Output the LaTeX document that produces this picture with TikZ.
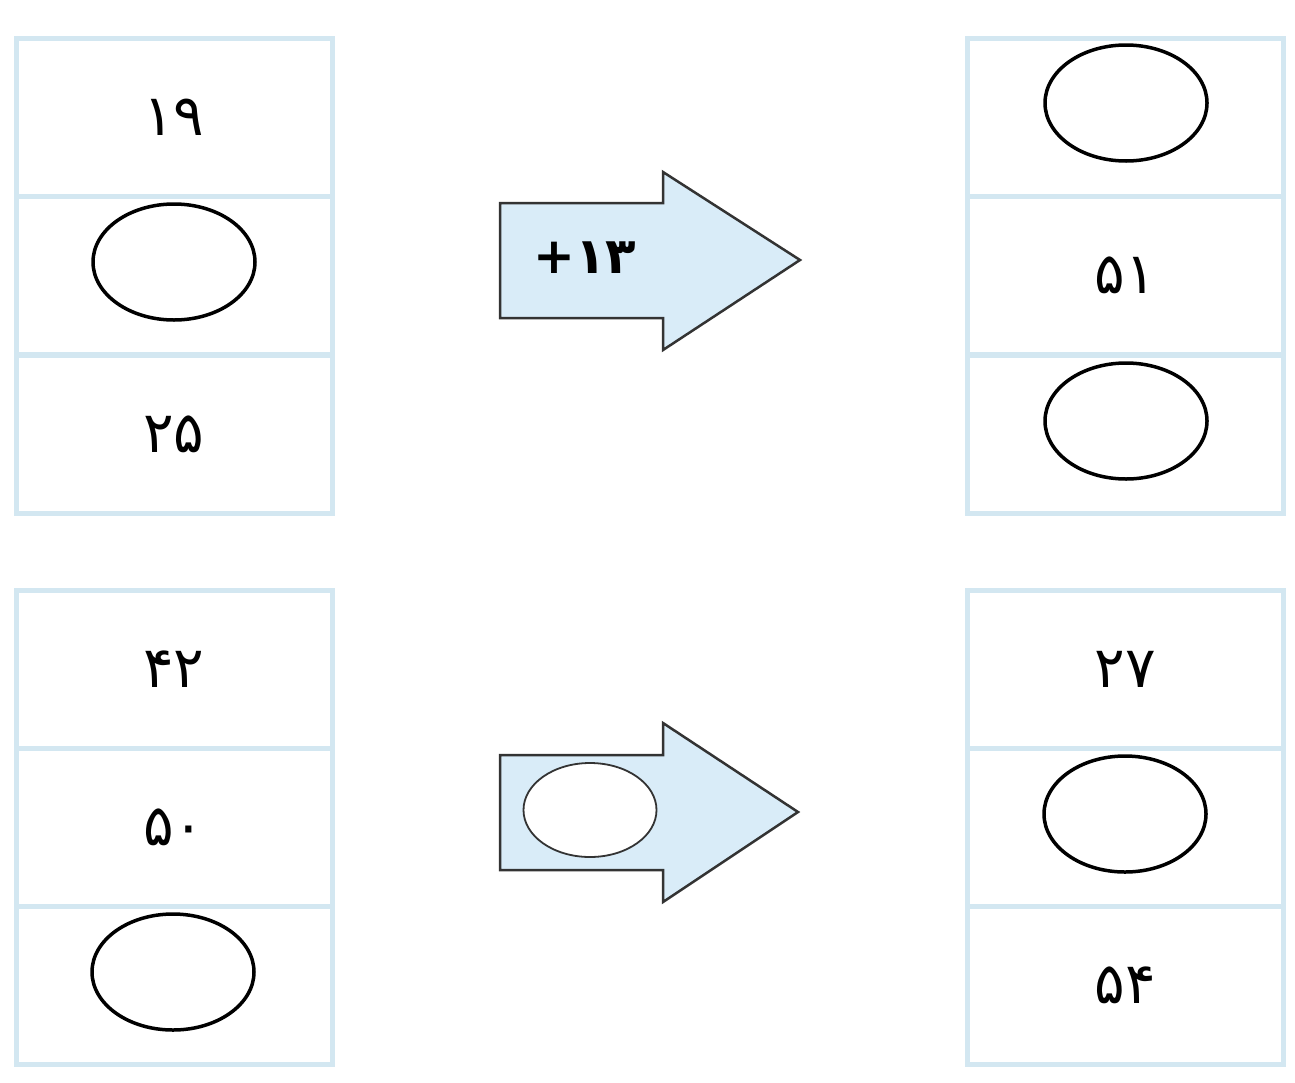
\documentclass[tikz,border=0pt]{standalone}
\usepackage{fontspec}
\newfontfamily\fa{DejaVu Sans}
\usetikzlibrary{shapes.geometric}
\definecolor{cellblue}{HTML}{D3E7F1}
\definecolor{arrowfill}{HTML}{D9ECF8}
\definecolor{arrowline}{HTML}{333333}
\tikzset{
  cell/.style={draw=cellblue, line width=5pt, fill=white, minimum width=316pt, minimum height=158pt, inner sep=0pt},
  num/.style={font=\fa\fontsize{57}{66}\selectfont, inner sep=0pt},
  oval/.style={ellipse, draw=black, line width=3.5pt, fill=white, minimum width=162pt, minimum height=116pt, inner sep=0pt},
  bigarrow/.style={draw=arrowline, line width=2.5pt, fill=arrowfill, line join=miter},
  smalloval/.style={ellipse, draw=arrowline, line width=1.8pt, fill=white, minimum width=133pt, minimum height=94pt, inner sep=0pt},
  oplabel/.style={font=\fa\bfseries\fontsize{50}{60}\selectfont, inner sep=0pt}
}
\begin{document}
\begin{tikzpicture}[x=1pt,y=-1pt]
\useasboundingbox (0,0) rectangle (1295,1082);
\fill[white] (0,0) rectangle (1295,1082);
% top-left box
\node[cell] (tl1) at (174,117) {};
\node[cell] (tl2) at (174,275) {};
\node[cell] (tl3) at (174,434) {};
\node[num] (tl1t) at (tl1) {۱۹};
\node[oval] (tl2o) at (174,262) {};
\node[num] (tl3t) at (tl3) {۲۵};
% top-right box
\node[cell] (tr1) at (1125,117) {};
\node[cell] (tr2) at (1125,275) {};
\node[cell] (tr3) at (1125,434) {};
\node[oval] (tr1o) at (1126,103) {};
\node[num] (tr2t) at (tr2) {۵۱};
\node[oval] (tr3o) at (1126,421) {};
% bottom-left box
\node[cell] (bl1) at (174,669) {};
\node[cell] (bl2) at (174,827) {};
\node[cell] (bl3) at (174,985) {};
\node[num] (bl1t) at (bl1) {۴۲};
\node[num] (bl2t) at (bl2) {۵۰};
\node[oval] (bl3o) at (173,972) {};
% bottom-right box
\node[cell] (br1) at (1125,669) {};
\node[cell] (br2) at (1125,827) {};
\node[cell] (br3) at (1125,985) {};
\node[num] (br1t) at (br1) {۲۷};
\node[oval] (br2o) at (1125,814) {};
\node[num] (br3t) at (br3) {۵۴};
% top arrow
\draw[bigarrow] (500,203) -- (663,203) -- (663,172) -- (800,260) -- (663,350) -- (663,318) -- (500,318) -- cycle;
\node[oplabel] (op1) at (585,258) {+۱۳};
% bottom arrow
\draw[bigarrow] (500,755) -- (663,755) -- (663,723) -- (798,812) -- (663,902) -- (663,870) -- (500,870) -- cycle;
\node[smalloval] (op2) at (590,810) {};
\end{tikzpicture}
\end{document}
